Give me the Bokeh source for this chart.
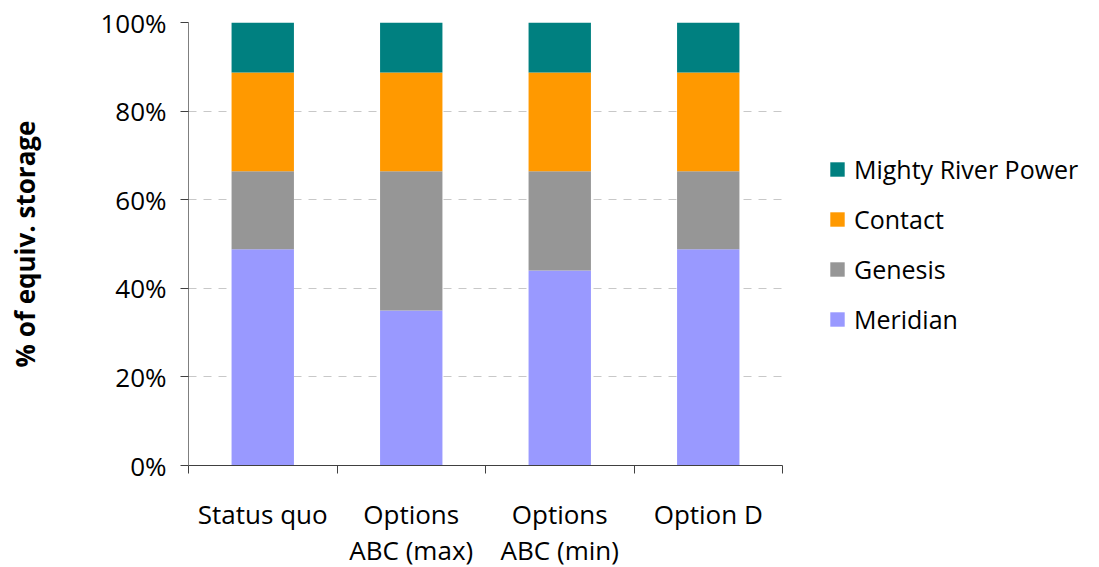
from bokeh.plotting import figure
from bokeh.models import (Range1d, FixedTicker, PrintfTickFormatter, Legend, LegendItem)
from bokeh.embed import file_html
from bokeh.resources import INLINE

categories = ["Status quo", "Options\nABC (max)", "Options\nABC (min)", "Option D"]
meridian = [48.8, 35.0, 44.0, 48.8]
genesis = [17.6, 31.4, 22.4, 17.6]
contact = [22.3, 22.3, 22.3, 22.3]
mighty_river_power = [11.3, 11.3, 11.3, 11.3]
series_names = ["Meridian", "Genesis", "Contact", "Mighty River Power"]
colors = ["#9999FF", "#969696", "#FF9900", "#008080"]
y_ticks = [0, 20, 40, 60, 80, 100]

FONT = "Open Sans"

xs = [i + 0.5 for i in range(len(categories))]
data = dict(x=xs, Meridian=meridian, Genesis=genesis, Contact=contact)
data["Mighty River Power"] = mighty_river_power

p = figure(frame_width=594, frame_height=443, output_backend="svg", toolbar_location=None,
           x_range=Range1d(0, len(categories)), y_range=Range1d(0, 100),
           min_border_left=188, min_border_right=10, min_border_top=22,
           min_border_bottom=102)
p.outline_line_color = None
p.background_fill_color = "white"
p.border_fill_color = "white"

renderers = p.vbar_stack(series_names, x="x", width=0.42, color=colors,
                         line_color=None, source=data)

# x axis: ticks at category boundaries, labels at centers
xa = p.xaxis[0]
xa.ticker = FixedTicker(ticks=xs, minor_ticks=list(range(len(categories) + 1)))
xa.major_label_overrides = {x: c for x, c in zip(xs, categories)}
xa.major_tick_line_color = None
xa.minor_tick_line_color = "#404040"
xa.minor_tick_in = 0
xa.minor_tick_out = 8
xa.axis_line_color = "#404040"
xa.major_label_text_font = FONT
xa.major_label_text_font_size = "26px"
xa.major_label_text_color = "black"
xa.major_label_text_line_height = 1.02
xa.major_label_standoff = 22

ya = p.yaxis[0]
ya.ticker = FixedTicker(ticks=y_ticks)
ya.formatter = PrintfTickFormatter(format="%d%%")
ya.axis_line_color = "#7f7f7f"
ya.major_tick_line_color = "#404040"
ya.major_tick_in = 0
ya.major_tick_out = 8
ya.minor_tick_line_color = None
ya.major_label_text_font = FONT
ya.major_label_text_font_size = "26px"
ya.major_label_text_color = "black"
ya.major_label_standoff = 14
ya.axis_label = "% of equiv. storage"
ya.axis_label_text_font = FONT
ya.axis_label_text_font_size = "26px"
ya.axis_label_text_font_style = "bold"
ya.axis_label_text_color = "black"
ya.axis_label_standoff = 54

p.xgrid.grid_line_color = None
p.ygrid.ticker = FixedTicker(ticks=y_ticks[1:])
p.ygrid.grid_line_color = "#c8c8c8"
p.ygrid.grid_line_dash = "8 7"
p.ygrid.grid_line_width = 1

items = [LegendItem(label=n, renderers=[r]) for n, r in zip(series_names, renderers)][::-1]
legend = Legend(items=items, location="center_left", orientation="vertical",
                border_line_color=None, background_fill_alpha=0,
                label_text_font=FONT, label_text_font_size="25px",
                label_text_color="black", glyph_width=18, glyph_height=18,
                label_height=20, label_standoff=8, spacing=16, padding=0,
                margin=46)
p.add_layout(legend, "right")

open("out.html", "w").write(file_html(p, INLINE))
